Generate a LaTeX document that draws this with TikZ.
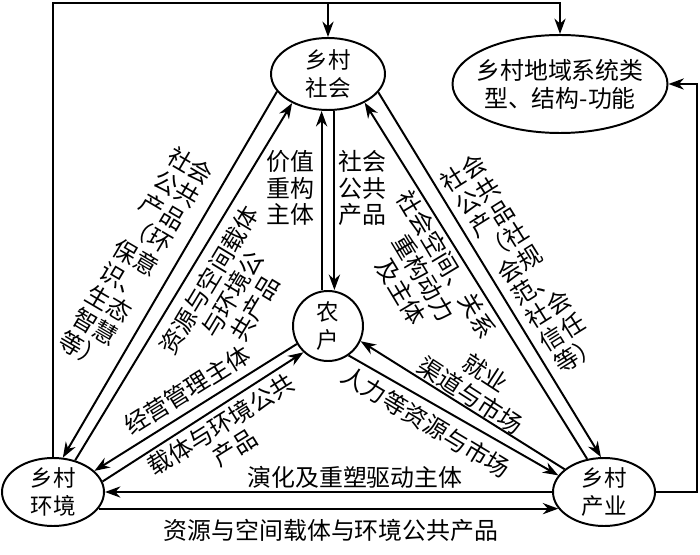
\documentclass[tikz,border=0pt]{standalone}
\usepackage{fontspec}
\setmainfont{Noto Sans CJK SC}
\usepackage{xcolor}
\usetikzlibrary{shapes.geometric, arrows.meta}

\begin{document}
\begin{tikzpicture}[
  ell/.style={draw, ellipse, line width=1.4pt, inner sep=-6pt, align=center,
              font=\fontsize{16}{20}\selectfont},
  lab/.style={align=center, inner sep=0pt, font=\fontsize{17}{19}\selectfont},
  arr/.style={->, line width=1.4pt, >={Stealth[length=11pt, width=8pt]}}
]
  \useasboundingbox (0,0) rectangle (17.5,13.85);

  % Nodes
  \node[ell, minimum width=2.85cm, minimum height=1.8cm] (soc) at (8.2,12.0) {乡村\\社会};
  \node[ell, minimum width=5.375cm, minimum height=2.45cm,
        font=\fontsize{17}{20}\selectfont] (sys) at (14.0,11.75) {乡村地域系统类\\型、结构-功能};
  \node[ell, circle, minimum size=1.75cm] (farm) at (8.2,5.7) {农\\户};
  \node[ell, minimum width=2.55cm, minimum height=1.7cm] (env) at (1.325,1.55) {乡村\\环境};
  \node[ell, minimum width=2.55cm, minimum height=1.7cm] (ind) at (15.1,1.55) {乡村\\产业};

  % Arrows
  \draw[arr] (soc.199) -- (env.74);
  \draw[arr] (env.55) -- (soc.219);
  \draw[arr] (soc.340) -- (ind.95);
  \draw[arr] (ind.117) -- (soc.322);
  \draw[arr] ([xshift=-0.16cm]farm.north) -- ([xshift=-0.16cm]soc.south);
  \draw[arr] ([xshift=0.16cm]soc.south) -- ([xshift=0.16cm]farm.north);
  \draw[arr] (farm.210) -- (env.27);
  \draw[arr] (env.12) -- (farm.227);
  \draw[arr] (ind.150) -- (farm.335);
  \draw[arr] (farm.305) -- (ind.160);
  \draw[arr] (ind.west) -- (env.east);
  \draw[arr] (env.340) -- (ind.200);

  % Feedback
  \coordinate (top) at (0,13.775);
  \coordinate (rgt) at (17.425,0);
  \draw[arr] (env.north) |- (sys.north |- top) -- (sys.north);
  \draw[arr] (soc.north |- top) -- (soc.north);
  \draw[arr] (ind.east) -- (ind.east -| rgt) |- (sys.east);

  % Labels
  \node[lab] (val) at (7.25,9.15) {价值\\重构\\主体};
  \node[lab] (pub) at (9.05,9.15) {社会\\公共\\产品};
  \node[lab, rotate=-30.5] (eco) at (3.4,7.4) {社会\\公共\\产品\\（环\\保意\\识、\\生态\\智慧\\等）};
  \node[lab, rotate=59] (res) at (5.8,6.5) {资源与空间载体\\与环境公\\共产品};
  \node[lab, rotate=32] (norm) at (13.0,7.25) {社会\\公共\\产品\\（社\\会规\\范、\\社会\\信任\\等）};
  \node[lab, rotate=-59] (spa) at (10.6,6.9) {社会空间、关系\\重构动力\\及主体};
  \node[lab, rotate=32] (mgmt) at (4.675,4.1) {经营管理主体};
  \node[lab, rotate=32] (car) at (5.7,2.95) {载体与环境公共\\产品};
  \node[lab, rotate=-33] (job) at (11.95,4.25) {就业\\渠道与市场};
  \node[lab, rotate=-31] (hum) at (10.65,3.3) {人力等资源与市场};
  \node[lab] (evo) at (8.875,1.925) {演化及重塑驱动主体};
  \node[lab] (sp) at (8.275,0.6) {资源与空间载体与环境公共产品};
\end{tikzpicture}
\end{document}
